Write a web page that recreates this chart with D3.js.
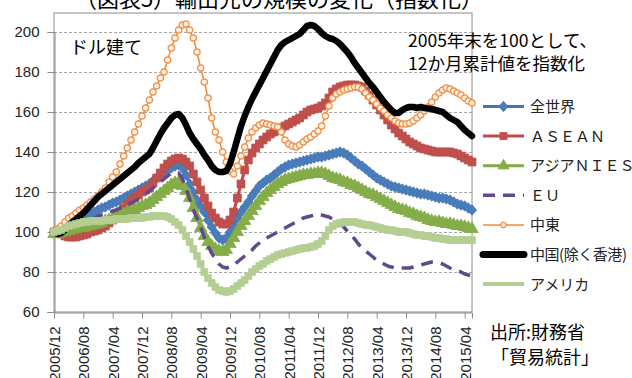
<!DOCTYPE html>
<html><head><meta charset="utf-8">
<script src="https://cdn.jsdelivr.net/npm/d3@7"></script>
<style>body{margin:0;background:#fff}svg{display:block}</style>
</head><body>
<svg id="c" width="632" height="378"></svg>
<script>
// ---- data (monthly, 12-month cumulative exports index, 2005/12 = 100) ----
const startYear = 2005, startMonth = 12, nMonths = 115;   // 2005/12 .. 2015/06
const categories = [];
for (let k = 0; k < nMonths; k++) {
  const m0 = startMonth - 1 + k;
  const y = startYear + Math.floor(m0 / 12), m = (m0 % 12) + 1;
  categories.push(y + "/" + (m < 10 ? "0" + m : m));
}
const tickLabels = ["2005/12","2006/08","2007/04","2007/12","2008/08","2009/04","2009/12","2010/08","2011/04","2011/12","2012/08","2013/04","2013/12","2014/08","2015/04"];
const yTicks = [60,80,100,120,140,160,180,200];

const world = [100,100.5,101,102,103,104,105,106,107,108,
109,110,111,112,112.5,113.5,114.5,115,116,117,
118,119,120,121,122,123,124,125.5,127,128.5,
130,131,132,133,133.5,132,128.5,124,120,116,
113,110,106,102.5,99.5,97,96,97,100,103.5,
107,110,112.5,115,118,120.5,123,124.5,126,127,
128.5,130,131.5,132.5,133.5,134,134.5,135,135.5,136,
136.5,137,137.5,137.5,138,138.5,139,139.5,140,139.5,
138.5,137,135.5,134,133,131.5,130,128.5,127,126,
125,124,123,122.5,122,121.5,121,120.5,120,119.5,
119,119,118.5,118,117.5,117,117,116.5,116,115,
114,113.5,113,112,111];
const asean = [100,99.5,99,98,97.5,97.5,97.5,98,98.5,99,
100,100.5,101,102,103,104.5,106,108,110,112,
114,115.5,117,118.5,120,121,122,124.5,127,129.5,
132,134,135.5,136.5,137,136.5,135,133,129,125,
121,117,113,109.5,107,105,104,104,106,110,
117,124,131,136,139.5,142,144,146,147.5,149,
150,151,152,153,154,155,156,157,158.5,160,
161,161.5,162,163,164.5,167,170,171.5,172.5,173,
173.5,173.5,173.5,173,172.5,170.5,168.5,166,163.5,161,
158.5,156,153.5,151.5,149.5,148,146.5,145,144,143,
142,141.5,141,140.5,140,140,140,140,140,139.5,
139,138,137,136,135];
const nies = [99,99,99.5,100,100.5,101,101.5,102,102,102.5,
103,103.5,104,104.5,105.5,106,106.5,107,108,109,
110,110.5,111,112,113,113.5,114.5,116,117.5,119,
120.5,122,123.5,124.5,124.5,123,120.5,117,112,107,
102,98,95,93,91.5,90.5,90,91,94,97,
100,103,105.5,108,110.5,113,115.5,117.5,119.5,121,
122.5,124,125,126,126.5,127,127.5,128,128.5,128.5,
129,129,129.5,129.5,129,128,127,126.5,126,125,
124.5,123.5,123,122,121,120,119,118.5,117.5,116.5,
115.5,114.5,113.5,112.5,111.5,111,110.5,109.5,109,108,
107.5,107,106,105.5,105,105,104.5,104,104,103.5,
103,103,102.5,102,101.5];
const eu = [100,100.5,101,101.5,102,102.5,103,104,104.5,105,
106,107,108,108.5,109,110,110.5,111,112,112.5,
113.5,114.5,115.5,116.5,117.5,119,120.5,122,123.5,125,
126.5,128,129.5,130,129.5,126.5,122,116.5,111,107,
102.5,97.5,93,89.5,86.5,84,82.5,82,82.5,83.5,
85,86.5,88,89.5,91,93,94.5,96,97,98,
99,100,101,102,103,104,105,106,107,107.5,
108,108.5,109,108.5,108,107.5,106.5,105.5,104,102.5,
100.5,98.5,96.5,94,92,90.5,89,87.5,86,85,
84,83,82.5,82,82,82,82,82,82.5,83,
83.5,84,84.5,85,85,84.5,84,83,82,81,
80.5,80,79,78.5,78];
const mideast = [100,101.5,103,105,107,108,109.5,111,112,113.5,
115,116.5,118,120,122,125,127.5,130,134,138,
142,146,150,154,158,162,166,170,173,177,
180,186,192,197,201,203.5,204,201,197,190,
182,175,167,157,150,146,140,135,130.5,129,
133,138,142.5,147,150,152,153.5,154.5,154,153.5,
153,152.5,150,146,144,143,142.5,143.5,145,146.5,
147.5,149,150.5,153,158,163,167,169,170,171,
171.5,172,172.5,172.5,171.5,169.5,167.5,166,164,162,
160.5,158.5,157,155.5,154.5,154,154,154.5,155.5,157,
158.5,160.5,162.5,165,167.5,169.5,171,172,171.5,170.5,
169.5,168.5,167,165.5,164.5];
const china = [100,99,99.5,101,103,105,106.5,108,109.5,111.5,
113.5,115.5,117.5,119,120.5,122,123.5,125,126.5,128,
129.5,131,132.5,134.5,136,137.5,139,142,145.5,149,
152,154.5,157,158.5,159,157,153.5,149.5,146.5,144,
141.5,138.5,136,133,131,130,130,130.5,134,140,
146.5,153,158,162.5,166.5,170,173.5,177,180.5,184,
187.5,191,193.5,195,196,197,198,199,201,203,
203.5,203,201.5,199.5,198,197,196.5,195.5,194,192,
190,187.5,184.5,182,179.5,177,174.5,172.5,170,167.5,
165,163,161,159.5,159.5,161,162,162.5,162.5,162,
162.5,162,161.8,161.5,161,160.5,160,158.5,157,156,
155,153,151,149.5,148];
const usa = [100,100.5,101,102,103,103.5,104,104.5,105,105,
105.5,105.5,105.5,105.5,106,106,106,106.5,106.5,106.5,
106.5,107,107,107,107,107.5,107.5,108,108,108,
108,107.5,106.5,105,103.5,101,98,95,91.5,88,
84,80,77,74.5,72.5,71,70.5,70,70.5,71.5,
73,74.5,76,78,80,81.5,83,84,85.5,86.5,
87.5,88.5,89,89.5,90,90.5,91,91.5,92,92,
92.5,93,94,95.5,98,101,103,104,104.5,105,
105,105,105,104.5,104,103.5,103.5,103,102.5,102,
101.5,101,101,100.5,100,100,100,99.5,99,98.5,
98.5,98,98,97.5,97,97,96.5,96.5,96,96,
96,96,96,96,96];

const seriesNames = ["全世界","ＡＳＥＡＮ","アジアＮＩＥＳ","ＥＵ","中東","中国(除く香港)","アメリカ"];
const seriesValues = [world, asean, nies, eu, mideast, china, usa];

// ---- styles ----
const diamond = {draw(ctx, s){ctx.moveTo(0,-5.2);ctx.lineTo(4.6,0);ctx.lineTo(0,5.2);ctx.lineTo(-4.6,0);ctx.closePath();}};
const styles = [
  {color:"#4374B5", width:3, marker:diamond, msize:1, mfill:"#4A7EBB", mstroke:"#4374B5"},
  {color:"#BE4B48", width:3, marker:d3.symbolSquare, msize:62, mfill:"#C0504D", mstroke:"#BE4B48"},
  {color:"#82AA45", width:3, marker:d3.symbolTriangle, msize:66, mfill:"#86AE48", mstroke:"#82AA45"},
  {color:"#604A8C", width:3.5, dash:"12,8"},
  {color:"#F08A3C", width:1.5, marker:d3.symbolCircle, msize:32, mfill:"#FDF0E4", mstroke:"#F08A3C", mw:1.2},
  {color:"#000000", width:6.5},
  {color:"#B4CF91", width:3.5, marker:d3.symbolSquare, msize:46, mfill:"#B4CF91", mstroke:"#B4CF91"}
];

const svg = d3.select("#c");
const L = 54, R = 472, T = 13, B = 312;
const x = d3.scaleLinear().domain([0, nMonths - 1]).range([L, R]);
const y = d3.scaleLinear().domain([60, 200]).range([B, 32]);
const numFont = "'Liberation Sans', Arial, sans-serif";
const jpFont = "'Noto Sans CJK JP', sans-serif";

// title (clipped at top, as in the reference)
svg.append("text").attr("x", 279).attr("y", 7).attr("text-anchor","middle")
  .attr("font-family", jpFont).attr("font-size", 22).attr("fill","#000")
  .text("（図表5）輸出先の規模の変化（指数化）");

// plot frame
svg.append("rect").attr("x", L).attr("y", T).attr("width", R - L).attr("height", B - T)
  .attr("fill","none").attr("stroke","#8C8C8C").attr("stroke-width",1);

// gridlines
svg.append("g").selectAll("line").data(yTicks.filter(v => v > 60)).join("line")
  .attr("x1", L).attr("x2", R).attr("y1", d => y(d) + 0.5).attr("y2", d => y(d) + 0.5)
  .attr("stroke","#A6A6A6").attr("stroke-dasharray","3,2").attr("stroke-width",1);

// axes
const yAxis = svg.append("g").attr("transform", `translate(${L + 0.5},0)`)
  .call(d3.axisLeft(y).tickValues(yTicks).tickSize(7).tickPadding(8).tickFormat(d3.format("d")));
yAxis.selectAll("path,line").attr("stroke","#8C8C8C");
yAxis.selectAll("text").attr("font-family", numFont).attr("font-size", 15).attr("fill","#222");

const tickIdx = tickLabels.map(t => categories.indexOf(t));
const xAxis = svg.append("g").attr("transform", `translate(0,${B + 0.5})`)
  .call(d3.axisBottom(x).tickValues(tickIdx).tickSize(6).tickFormat(i => categories[i]));
xAxis.selectAll("path,line").attr("stroke","#8C8C8C");
xAxis.selectAll("text").attr("font-family", numFont).attr("font-size", 15).attr("fill","#222")
  .attr("transform","rotate(-90)").attr("text-anchor","end")
  .attr("x", -14).attr("y", 0).attr("dy","0.36em");

// series
const line = d3.line().x((d, i) => x(i)).y(d => y(d));
seriesValues.forEach((vals, k) => {
  const s = styles[k];
  const g = svg.append("g");
  g.append("path").datum(vals).attr("d", line).attr("fill","none")
    .attr("stroke", s.color).attr("stroke-width", s.width)
    .attr("stroke-linejoin","round").attr("stroke-linecap", s.dash ? "butt" : "round")
    .attr("stroke-dasharray", s.dash || null);
  if (s.marker) {
    const sym = d3.symbol().type(s.marker).size(s.msize);
    g.selectAll("path.m").data(vals).join("path").attr("class","m")
      .attr("transform", (d, i) => `translate(${x(i)},${y(d)})`)
      .attr("d", sym).attr("fill", s.mfill).attr("stroke", s.mstroke).attr("stroke-width", s.mw || 0.8);
  }
});

// legend
const lg = svg.append("g");
seriesNames.forEach((name, k) => {
  const s = styles[k];
  const ly = 106.5 + k * 29.6;
  const lw = k === 5 ? 7 : (k === 4 ? 1.5 : (k === 6 ? 4 : s.width));
  lg.append("line").attr("x1", 483).attr("x2", 524).attr("y1", ly).attr("y2", ly)
    .attr("stroke", s.color).attr("stroke-width", lw)
    .attr("stroke-linecap", k === 5 ? "round" : "butt")
    .attr("stroke-dasharray", s.dash || null);
  if (s.marker && k !== 6) {
    const sym = d3.symbol().type(s.marker).size(k === 4 ? 22 : s.msize * 0.8);
    lg.append("path").attr("transform", `translate(503.5,${ly})`).attr("d", sym)
      .attr("fill", s.mfill).attr("stroke", s.mstroke).attr("stroke-width", s.mw || 0.8);
  }
  const t = lg.append("text").attr("x", 530).attr("y", ly).attr("dy","0.36em")
    .attr("font-family", jpFont).attr("font-size", 15).attr("fill","#222").text(name);
  if (k === 5) t.attr("textLength", 97).attr("lengthAdjust", "spacing");
});

// annotations
const ann = (t, ax, ay, fs) => svg.append("text").attr("x", ax).attr("y", ay)
  .attr("font-family", jpFont).attr("font-size", fs).attr("fill","#000").text(t);
ann("ドル建て", 70, 54, 18);
ann("2005年末を100として、", 408, 47, 17.5);
ann("12か月累計値を指数化", 408, 70, 17.5);
ann("出所:財務省", 490, 339, 18);
ann("「貿易統計」", 491, 364, 18);
</script>
</body></html>
